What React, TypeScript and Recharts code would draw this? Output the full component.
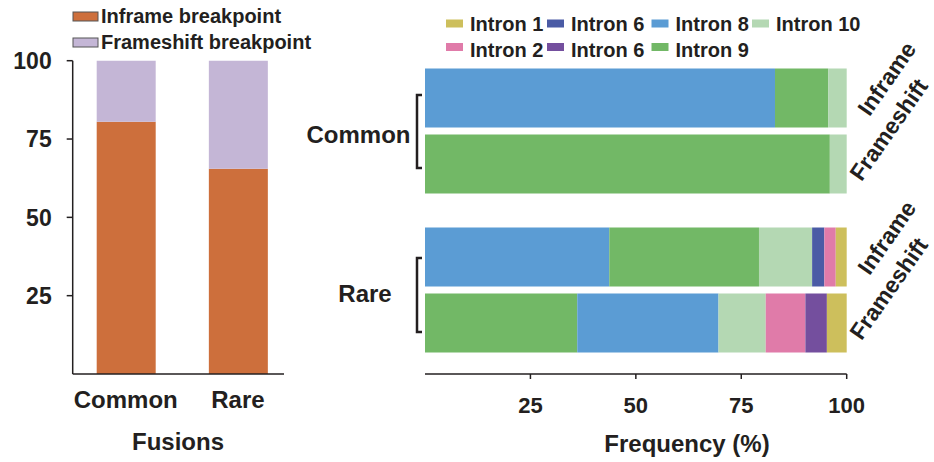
import { BarChart, Bar, XAxis, YAxis } from "recharts";

const FONT = '"Liberation Sans", Arial, sans-serif';
const INK = "#231f20";

// left panel: share of breakpoint type per fusion group
const fusions = ["Common", "Rare"];
const inframeShare = [80.5, 65.5];
const frameshiftShare = [19.5, 34.5];
const shareTicks = [25, 50, 75, 100];

// right panel: intron frequency per row
const groupOf = ["Common", "Common", "Rare", "Rare"];
const rowOf = ["Inframe", "Frameshift", "Inframe", "Frameshift"];
const intron9Lead = [0, 96.0, 0, 36.1]; // intron 9 drawn first on frameshift rows
const intron8 = [83.0, 0, 43.7, 33.5];
const intron9 = [12.6, 0, 35.5, 0];
const intron10 = [4.4, 4.0, 12.6, 11.2];
const intron6a = [0, 0, 2.9, 0];
const intron2 = [0, 0, 2.7, 9.4];
const intron6b = [0, 0, 0, 5.1];
const intron1 = [0, 0, 2.6, 4.7];
const freqTicks = [25, 50, 75, 100];

const C = {
  i1: "#cdbf5c",
  i2: "#e07ba9",
  i6a: "#4a5ba5",
  i6b: "#744f9e",
  i8: "#5b9cd4",
  i9: "#72b866",
  i10: "#b4d8b3",
  inframe: "#cd6f3c",
  frameshift: "#c4b6d6",
};

const series = [
  { key: "i9lead", values: intron9Lead, color: C.i9 },
  { key: "i8", values: intron8, color: C.i8 },
  { key: "i9", values: intron9, color: C.i9 },
  { key: "i10", values: intron10, color: C.i10 },
  { key: "i6a", values: intron6a, color: C.i6a },
  { key: "i2", values: intron2, color: C.i2 },
  { key: "i6b", values: intron6b, color: C.i6b },
  { key: "i1", values: intron1, color: C.i1 },
];

const legendNames = ["Intron 1", "Intron 6", "Intron 8", "Intron 10", "Intron 2", "Intron 6", "Intron 9"];
const legendColors = [C.i1, C.i6a, C.i8, C.i10, C.i2, C.i6b, C.i9];

const leftData = fusions.map((f, i) => ({
  fusion: f,
  inframe: inframeShare[i],
  frameshift: frameshiftShare[i],
}));

function rowsFor(group: string) {
  const out: any[] = [];
  groupOf.forEach((g, i) => {
    if (g !== group) return;
    const r: any = { row: rowOf[i] };
    series.forEach((s) => (r[s.key] = s.values[i]));
    out.push(r);
  });
  return out;
}

function RowTick(props: any) {
  const { x, y, payload } = props;
  const inf = payload.value === "Inframe";
  const cx = x + (inf ? 40 : 42);
  const cy = y + (inf ? -19 : -34);
  return (
    <text
      x={cx}
      y={cy}
      transform={`rotate(-55 ${cx} ${cy})`}
      textAnchor="middle"
      dominantBaseline="central"
      fontFamily={FONT}
      fontWeight="bold"
      fontSize={23}
      fill={INK}
    >
      {payload.value}
    </text>
  );
}

// top = page y of the chart svg, plotTop = page y where the plot starts
function IntronChart({ group, top, height, plotTop, showAxis }: any) {
  const padTop = showAxis ? 13.5 : 0;
  const padBottom = showAxis ? 18.5 : 13.5;
  return (
    <div style={{ position: "absolute", left: 0, top }}>
      <BarChart
        width={934}
        height={height}
        layout="vertical"
        data={rowsFor(group)}
        margin={{ top: plotTop - top, right: 0, bottom: 0, left: 425 }}
        style={{ overflow: "visible" }}
      >
        <XAxis
          type="number"
          domain={[0, 100]}
          ticks={freqTicks}
          hide={!showAxis}
          height={88}
          tickSize={5}
          tickMargin={18}
          axisLine={{ stroke: INK, strokeWidth: 1.5 }}
          tickLine={{ stroke: INK, strokeWidth: 1.5 }}
          tick={{ fontSize: 22, fontWeight: "bold", fill: INK, fontFamily: FONT }}
        />
        <YAxis
          type="category"
          dataKey="row"
          width={0}
          tick={false}
          tickLine={false}
          padding={{ top: padTop, bottom: padBottom }}
          axisLine={{ stroke: INK, strokeWidth: 1.5 }}
        />
        <YAxis
          yAxisId="labels"
          orientation="right"
          type="category"
          dataKey="row"
          width={87.3}
          axisLine={false}
          tickLine={false}
          tickSize={0}
          tickMargin={0}
          padding={{ top: padTop, bottom: padBottom }}
          tick={<RowTick />}
        />
        {series.map((s) => (
          <Bar key={s.key} dataKey={s.key} stackId="a" fill={s.color} barSize={59} isAnimationActive={false} />
        ))}
      </BarChart>
    </div>
  );
}

function Bracket({ x, y1, y2 }: any) {
  return (
    <path
      d={`M${x + 5},${y1} L${x},${y1} L${x},${y2} L${x + 5},${y2}`}
      fill="none"
      stroke={INK}
      strokeWidth={2.5}
    />
  );
}

export default function App() {
  const txt = { fontFamily: FONT, fontWeight: "bold" as const, fill: INK };
  return (
    <div style={{ position: "absolute", left: 0, top: 0, width: 934, height: 462, background: "#fff" }}>
      <div style={{ position: "absolute", left: 0, top: 0 }}>
        <BarChart width={300} height={462} data={leftData} margin={{ top: 60.7, right: 16, bottom: 0, left: 0 }}>
          <XAxis
            dataKey="fusion"
            height={88}
            padding={{ left: -3, right: -10 }}
            tickLine={false}
            tickSize={0}
            tickMargin={17}
            axisLine={{ stroke: INK, strokeWidth: 1.5 }}
            tick={{ fontSize: 24, fontWeight: "bold", fill: INK, fontFamily: FONT }}
          />
          <YAxis
            width={72.7}
            domain={[0, 100]}
            ticks={shareTicks}
            tickSize={6}
            tickMargin={15}
            axisLine={{ stroke: INK, strokeWidth: 1.5 }}
            tickLine={{ stroke: INK, strokeWidth: 1.5 }}
            tick={{ fontSize: 23, fontWeight: "bold", fill: INK, fontFamily: FONT }}
          />
          <Bar dataKey="inframe" stackId="s" fill={C.inframe} barSize={59} isAnimationActive={false} />
          <Bar dataKey="frameshift" stackId="s" fill={C.frameshift} barSize={59} isAnimationActive={false} />
        </BarChart>
      </div>

      <IntronChart group="Common" top={0} height={210} plotTop={64.5} showAxis={false} />
      <IntronChart group="Rare" top={150} height={312} plotTop={210} showAxis={true} />

      <svg width={934} height={462} style={{ position: "absolute", left: 0, top: 0, pointerEvents: "none" }}>
        {/* left legend */}
        <rect x={73} y={12} width={25} height={9} fill={C.inframe} stroke="#555" strokeWidth={1} />
        <text x={101} y={22.5} fontSize={20} {...txt}>Inframe breakpoint</text>
        <rect x={73} y={38} width={25} height={9} fill={C.frameshift} stroke="#555" strokeWidth={1} />
        <text x={101} y={48.5} fontSize={20} {...txt}>Frameshift breakpoint</text>

        {/* right legend */}
        {legendNames.map((n, i) => {
          const col = i < 4 ? i : i - 4;
          const sx = [446, 547, 651.5, 752][col];
          const row = i < 4 ? 0 : 1;
          return (
            <g key={i}>
              <rect x={sx} y={row ? 43 : 19.5} width={17} height={8} fill={legendColors[i]} />
              <text x={sx + 24} y={row ? 56.5 : 31} fontSize={20} {...txt}>{n}</text>
            </g>
          );
        })}

        {/* group labels */}
        <text x={358.5} y={143} fontSize={24} textAnchor="middle" {...txt}>Common</text>
        <Bracket x={417} y1={95} y2={168} />
        <text x={365} y={302} fontSize={24} textAnchor="middle" {...txt}>Rare</text>
        <Bracket x={417} y1={258} y2={332} />

        {/* axis titles */}
        <text x={178} y={450} fontSize={24} textAnchor="middle" {...txt}>Fusions</text>
        <text x={687} y={452} fontSize={24} textAnchor="middle" {...txt}>Frequency (%)</text>
      </svg>
    </div>
  );
}
